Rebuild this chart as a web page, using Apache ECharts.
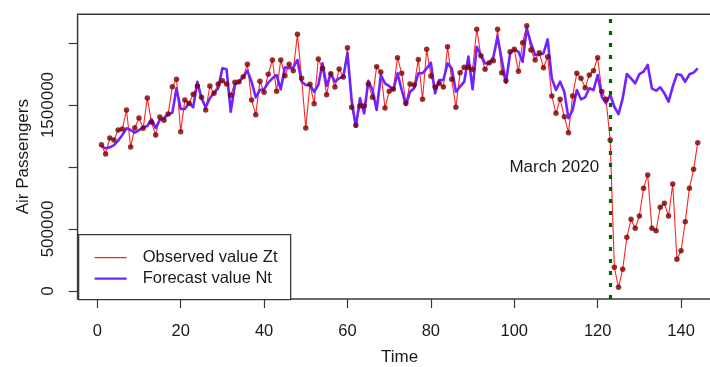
<!DOCTYPE html>
<html>
<head>
<meta charset="utf-8">
<script src="https://cdn.jsdelivr.net/npm/echarts@6/dist/echarts.min.js"></script>
<style>
  html, body { margin: 0; padding: 0; background: #fff; }
  #chart { width: 710px; height: 367px; }
</style>
</head>
<body>
<div id="chart"></div>
<script>
// Monthly air passengers: observed series Zt and model forecast Nt
const observed = [
  1180000, 1105000, 1234000, 1218000, 1298000, 1306000, 1460000, 1161000, 1317000, 1395000,
  1312000, 1557000, 1360000, 1258000, 1403000, 1377000, 1427000, 1648000, 1707000, 1285000,
  1540000, 1514000, 1586000, 1653000, 1562000, 1460000, 1653000, 1594000, 1669000, 1696000,
  1669000, 1578000, 1683000, 1688000, 1728000, 1828000, 1540000, 1422000, 1691000, 1603000,
  1748000, 1863000, 1610000, 1863000, 1736000, 1828000, 1777000, 2070000, 1715000, 1315000,
  1667000, 1511000, 1871000, 1796000, 1583000, 1753000, 1645000, 1790000, 1726000, 1962000,
  1481000, 1336000, 1492000, 1492000, 1669000, 1562000, 1809000, 1766000, 1476000, 1610000,
  1629000, 1882000, 1756000, 1514000, 1669000, 1661000, 1868000, 1546000, 1949000, 1734000,
  1645000, 1675000, 1645000, 1970000, 1707000, 1481000, 1761000, 1804000, 1804000, 1788000,
  2111000, 1898000, 1788000, 1841000, 1857000, 2111000, 1761000, 1696000, 1930000, 1949000,
  1772000, 2003000, 2140000, 1944000, 1863000, 1922000, 1801000, 1890000, 1573000, 1433000,
  1546000, 1406000, 1277000, 1573000, 1756000, 1715000, 1640000, 1742000, 1777000, 1882000,
  1608000, 1546000, 1218000, 191000, 30000, 175000, 433000, 578000, 506000, 605000,
  828000, 936000, 506000, 486000, 675000, 707000, 605000, 863000, 256000, 325000,
  559000, 828000, 981000, 1196000
];

const forecast = [
  1169000, 1151000, 1159000, 1177000, 1212000, 1258000, 1312000, 1298000, 1277000, 1298000,
  1320000, 1331000, 1387000, 1315000, 1379000, 1395000, 1427000, 1438000, 1635000, 1468000,
  1468000, 1516000, 1482000, 1688000, 1554000, 1482000, 1554000, 1599000, 1635000, 1796000,
  1788000, 1446000, 1661000, 1688000, 1728000, 1777000, 1688000, 1562000, 1621000, 1627000,
  1680000, 1715000, 1742000, 1627000, 1804000, 1796000, 1804000, 1863000, 1688000, 1661000,
  1661000, 1607000, 1661000, 1836000, 1653000, 1756000, 1688000, 1715000, 1728000, 1917000,
  1540000, 1325000, 1554000, 1433000, 1696000, 1621000, 1460000, 1742000, 1675000, 1653000,
  1621000, 1756000, 1621000, 1500000, 1607000, 1635000, 1756000, 1756000, 1796000, 1841000,
  1594000, 1702000, 1702000, 1836000, 1796000, 1607000, 1648000, 1688000, 1890000, 1627000,
  1970000, 1903000, 1836000, 1836000, 1890000, 2051000, 1863000, 1680000, 1917000, 1944000,
  1930000, 1849000, 2119000, 1998000, 1903000, 1903000, 1917000, 2030000, 1715000, 1621000,
  1688000, 1607000, 1393000, 1460000, 1621000, 1546000, 1562000, 1635000, 1621000, 1742000,
  1567000, 1514000, 1583000, 1486000, 1427000, 1554000, 1750000, 1715000, 1675000, 1750000,
  1769000, 1823000, 1635000, 1615000, 1643000, 1594000, 1527000, 1648000, 1748000, 1742000,
  1688000, 1748000, 1761000, 1796000
];

const xTicks = [0, 20, 40, 60, 80, 100, 120, 140];
const yTicks = [0, 500000, 1000000, 1500000, 2000000];
const yTickLabels = [0, 500000, 1500000];

const marchIndex = 123;
const marchLabelValue = 1000000;
const marchLabel = 'March 2020';

const legendNames = ['Observed value Zt', 'Forecast value Nt'];

// pair each value with its time index (1-based)
const obsPairs = observed.map((v, i) => [i + 1, v]);
const fcPairs = forecast.map((v, i) => [i + 1, v]);

const FONT = '"Liberation Sans", Arial, sans-serif';
const RED = '#ff2424';
const PURPLE = '#7022ff';
const DOT = '#7a0000';
const TEXT = '#1a1a1a';
const FRAME = '#3a3a3a';

const chart = echarts.init(document.getElementById('chart'), null, { renderer: 'canvas' });

chart.setOption({
  animation: false,
  backgroundColor: '#ffffff',
  textStyle: { fontFamily: FONT },
  grid: {
    left: 77.6, top: 14.3, width: 644, height: 284.7,
    show: true, borderColor: FRAME, borderWidth: 1.5, backgroundColor: 'transparent',
    outerBoundsMode: 'none'
  },
  xAxis: {
    type: 'value', min: -4.72, max: 149.72,
    name: 'Time', nameLocation: 'middle', nameGap: 50,
    nameTextStyle: { fontSize: 17, color: TEXT, fontFamily: FONT },
    axisLine: { show: false, onZero: false },
    axisTick: { show: true, inside: false, customValues: xTicks, length: 9, lineStyle: { color: FRAME, width: 1.2 } },
    axisLabel: { customValues: xTicks, margin: 24, fontSize: 16.5, color: TEXT, fontFamily: FONT },
    splitLine: { show: false }
  },
  yAxis: {
    type: 'value', min: -64500, max: 2231600,
    name: 'Air Passengers', nameLocation: 'middle', nameGap: 46,
    nameTextStyle: { fontSize: 17, color: TEXT, fontFamily: FONT },
    axisLine: { show: false, onZero: false },
    axisTick: { show: true, inside: false, customValues: yTicks, length: 9, lineStyle: { color: FRAME, width: 1.2 } },
    axisLabel: {
      customValues: yTickLabels, rotate: 90, margin: 21, fontSize: 17, color: TEXT, fontFamily: FONT,
      formatter: v => String(v)
    },
    splitLine: { show: false }
  },
  series: [
    {
      name: legendNames[0], type: 'line', data: obsPairs, z: 2,
      showSymbol: false, symbol: 'none',
      lineStyle: { color: RED, width: 1.1 },
      markLine: {
        silent: true, symbol: ['none', 'none'],
        label: { show: false },
        lineStyle: { color: '#006400', width: 3.2, type: [4, 8], cap: 'butt' },
        data: [{ xAxis: marchIndex }]
      },
      markPoint: {
        silent: true,
        data: [{
          coord: [marchIndex, marchLabelValue], symbol: 'circle', symbolSize: 0,
          label: {
            show: true, formatter: marchLabel, position: 'left', distance: 11,
            fontSize: 17, color: TEXT, fontFamily: FONT
          }
        }]
      }
    },
    {
      name: legendNames[1], type: 'line', data: fcPairs, z: 3,
      showSymbol: false, symbol: 'none',
      lineStyle: { color: PURPLE, width: 2.6, join: 'round' }
    },
    {
      type: 'scatter', data: obsPairs, z: 4,
      symbol: 'circle', symbolSize: 5.5,
      itemStyle: { color: DOT }
    }
  ],
  graphic: [
    {
      type: 'group', left: 78, top: 234, z: 100,
      children: [
        { type: 'rect', shape: { x: 0, y: 0, width: 212, height: 65 },
          style: { fill: '#ffffff', stroke: FRAME, lineWidth: 1.3 } },
        { type: 'line', shape: { x1: 16, y1: 23, x2: 48, y2: 23 },
          style: { stroke: RED, lineWidth: 1.3 } },
        { type: 'line', shape: { x1: 16, y1: 44, x2: 48, y2: 44 },
          style: { stroke: PURPLE, lineWidth: 2.4 } },
        { type: 'text', x: 64, y: 23,
          style: { text: legendNames[0], fontSize: 16.5, fontFamily: FONT, fill: TEXT, verticalAlign: 'middle' } },
        { type: 'text', x: 64, y: 44,
          style: { text: legendNames[1], fontSize: 16.5, fontFamily: FONT, fill: TEXT, verticalAlign: 'middle' } }
      ]
    }
  ]
});
</script>
</body>
</html>
